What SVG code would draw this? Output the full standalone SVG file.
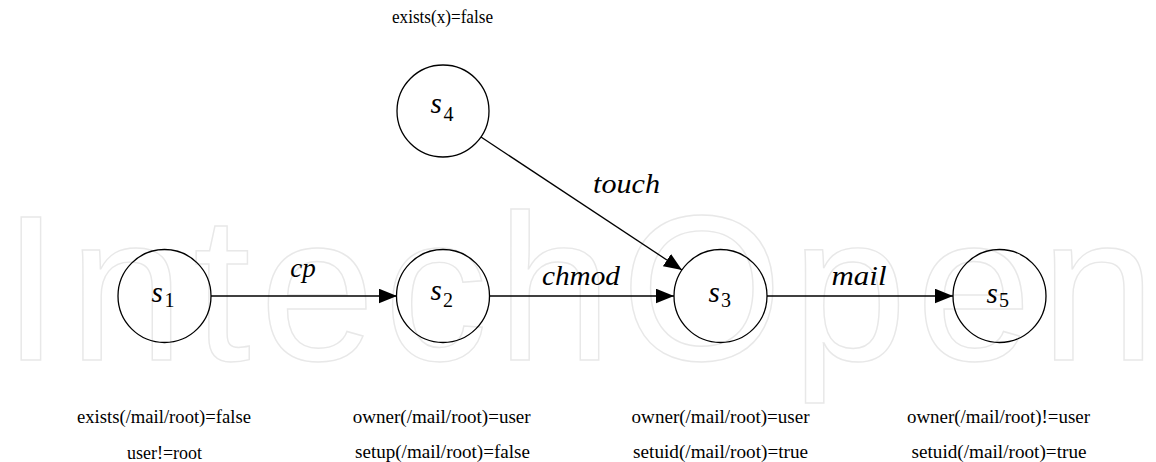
<svg xmlns="http://www.w3.org/2000/svg" width="1156" height="462" viewBox="0 0 1156 462">
<style>
.wm{font-family:"Liberation Sans",Arial,sans-serif;font-size:208px;fill:none;stroke:#e8e8e8;stroke-width:1.4}
.node circle{fill:none;stroke:#000;stroke-width:1.3}
.s{font-family:"Liberation Serif",serif;font-style:italic;font-size:29px;fill:#000}
.d{font-family:"Liberation Serif",serif;font-size:20px;fill:#000}
.el{font-family:"Liberation Serif",serif;font-style:italic;font-size:27px;fill:#000;text-anchor:middle}
.cond{font-family:"Liberation Serif",serif;font-size:18px;fill:#000;text-anchor:middle}
.edges line{stroke:#000;stroke-width:1.3;fill:none}
</style>
<defs>
<marker id="arr" markerUnits="userSpaceOnUse" markerWidth="19" markerHeight="15" refX="18" refY="7.3" orient="auto">
<path d="M0,0 L18,7.3 L0,14.6 Z" fill="#000"/>
</marker>
</defs>
<rect width="1156" height="462" fill="#fff"/>
<text class="wm" x="2" y="360" textLength="1154" lengthAdjust="spacing">IntechOpen</text>
<g id="edges" class="edges">
<line x1="211" y1="296" x2="397" y2="296" marker-end="url(#arr)"/>
<line x1="490" y1="296" x2="674" y2="296" marker-end="url(#arr)"/>
<line x1="767" y1="296" x2="953" y2="296" marker-end="url(#arr)"/>
<line x1="481" y1="137" x2="682" y2="270" marker-end="url(#arr)"/>
<text class="el" x="303" y="277">cp</text>
<text class="el" x="581" y="285" textLength="78" lengthAdjust="spacingAndGlyphs">chmod</text>
<text class="el" x="859" y="285" textLength="55" lengthAdjust="spacingAndGlyphs">mail</text>
<text class="el" x="626.5" y="193" textLength="67" lengthAdjust="spacingAndGlyphs">touch</text>
</g>
<g id="s1" class="node">
<circle cx="164.5" cy="296" r="46.5"/>
<text x="151.5" y="302"><tspan class="s">s</tspan><tspan class="d" x="164.5" y="307">1</tspan></text>
<text class="cond" x="164" y="423" textLength="174" lengthAdjust="spacingAndGlyphs">exists(/mail/root)=false</text>
<text class="cond" x="164.5" y="459" textLength="75" lengthAdjust="spacingAndGlyphs">user!=root</text>
</g>
<g id="s2" class="node">
<circle cx="443" cy="296" r="46.5"/>
<text x="430.5" y="300"><tspan class="s">s</tspan><tspan class="d" x="443" y="307">2</tspan></text>
<text class="cond" x="441.7" y="423" textLength="178" lengthAdjust="spacingAndGlyphs">owner(/mail/root)=user</text>
<text class="cond" x="442.5" y="458" textLength="175" lengthAdjust="spacingAndGlyphs">setup(/mail/root)=false</text>
</g>
<g id="s3" class="node">
<circle cx="720.5" cy="296" r="46.5"/>
<text x="708.5" y="302"><tspan class="s">s</tspan><tspan class="d" x="721" y="307">3</tspan></text>
<text class="cond" x="720.6" y="423" textLength="178" lengthAdjust="spacingAndGlyphs">owner(/mail/root)=user</text>
<text class="cond" x="720.6" y="458" textLength="175" lengthAdjust="spacingAndGlyphs">setuid(/mail/root)=true</text>
</g>
<g id="s4" class="node">
<circle cx="443" cy="111" r="46"/>
<text x="430.5" y="113"><tspan class="s">s</tspan><tspan class="d" x="443.5" y="121">4</tspan></text>
<text class="cond" x="442.5" y="23" textLength="101" lengthAdjust="spacingAndGlyphs">exists(x)=false</text>
</g>
<g id="s5" class="node">
<circle cx="999.5" cy="296" r="46.5"/>
<text x="986.5" y="303"><tspan class="s">s</tspan><tspan class="d" x="999" y="307">5</tspan></text>
<text class="cond" x="998.5" y="423" textLength="183" lengthAdjust="spacingAndGlyphs">owner(/mail/root)!=user</text>
<text class="cond" x="999" y="458" textLength="175" lengthAdjust="spacingAndGlyphs">setuid(/mail/root)=true</text>
</g>
</svg>
